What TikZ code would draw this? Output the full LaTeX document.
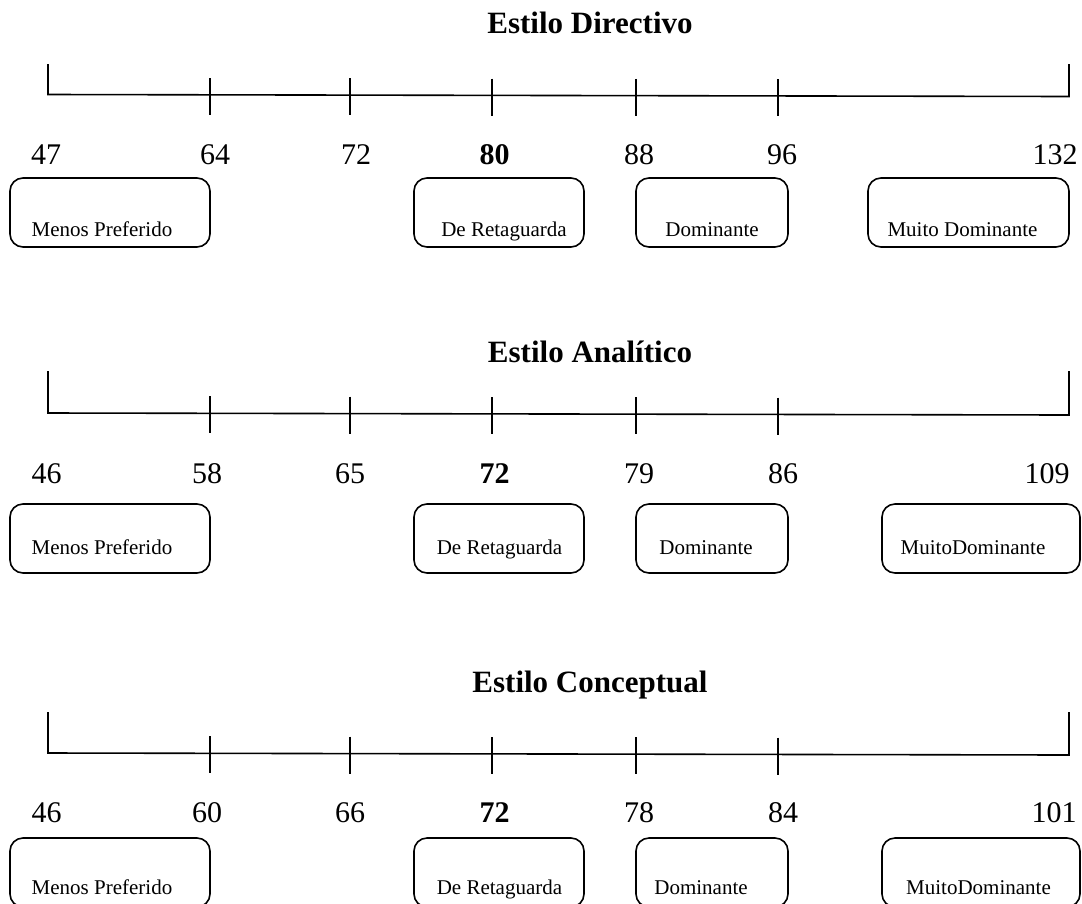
\documentclass[tikz,border=0pt]{standalone}
\usepackage{fontspec}
\setmainfont{Liberation Serif}
\begin{document}
\begin{tikzpicture}[x=1pt,y=-1pt,
  axisline/.style={line width=1.6pt, line cap=rect},
  tickline/.style={line width=1.6pt},
  title/.style={font=\fontsize{31}{36}\selectfont\bfseries, inner sep=0pt, anchor=base},
  score/.style={font=\fontsize{30}{34}\selectfont, inner sep=0pt, anchor=base},
  mid/.style={score, font=\fontsize{30}{34}\selectfont\bfseries},
  catbox/.style={draw, line width=1.6pt, rounded corners=13pt, inner sep=0pt},
  catlabel/.style={font=\fontsize{21}{24}\selectfont, inner sep=0pt, anchor=base}]
\useasboundingbox (0,0) rectangle (1082,903);
\clip (0,0) rectangle (1082,903);

% ---------- Estilo Directivo ----------
\node[title] (t1) at (590,33) {Estilo Directivo};
\draw[axisline] (48,65) -- (48,94.5) -- (1069,96.5) -- (1069,65);
\foreach \x/\y in {210/95, 350/95.2, 492/95.5, 636/95.8, 778/96}
  \draw[tickline] (\x,\y-17) -- (\x,\y+20);
\node[score] (d47)  at (46,164)    {47};
\node[score] (d64)  at (215,164)   {64};
\node[score] (d72)  at (356,164)   {72};
\node[mid]   (d80)  at (494.5,164) {80};
\node[score] (d88)  at (639,164)   {88};
\node[score] (d96)  at (782,164)   {96};
\node[score] (d132) at (1055,164)  {132};
\node[catbox, minimum width=200pt, minimum height=69pt] (d-b1) at (110,212.5) {};
\node[catbox, minimum width=170pt, minimum height=69pt] (d-b2) at (499,212.5) {};
\node[catbox, minimum width=152pt, minimum height=69pt] (d-b3) at (712,212.5) {};
\node[catbox, minimum width=201pt, minimum height=69pt] (d-b4) at (968.5,212.5) {};
\node[catlabel] (d-l1) at (102,236)   {Menos Preferido};
\node[catlabel] (d-l2) at (504,236)   {De Retaguarda};
\node[catlabel] (d-l3) at (712,236)   {Dominante};
\node[catlabel] (d-l4) at (962.5,236) {Muito Dominante};

% ---------- Estilo Analítico ----------
\node[title] (t2) at (590,362) {Estilo Analítico};
\draw[axisline] (48,372) -- (48,413) -- (1069,415) -- (1069,372);
\foreach \x/\y in {210/413.3, 350/413.6, 492/414, 636/414.2, 778/414.5}
  \draw[tickline] (\x,\y-17) -- (\x,\y+20);
\node[score] (a46)  at (46.5,483)  {46};
\node[score] (a58)  at (207,483)   {58};
\node[score] (a65)  at (350,483)   {65};
\node[mid]   (a72)  at (494.5,483) {72};
\node[score] (a79)  at (639,483)   {79};
\node[score] (a86)  at (783,483)   {86};
\node[score] (a109) at (1047,483)  {109};
\node[catbox, minimum width=200pt, minimum height=69pt] (a-b1) at (110,538.5) {};
\node[catbox, minimum width=170pt, minimum height=69pt] (a-b2) at (499,538.5) {};
\node[catbox, minimum width=152pt, minimum height=69pt] (a-b3) at (712,538.5) {};
\node[catbox, minimum width=198pt, minimum height=69pt] (a-b4) at (981,538.5) {};
\node[catlabel] (a-l1) at (102,554)   {Menos Preferido};
\node[catlabel] (a-l2) at (499.5,554) {De Retaguarda};
\node[catlabel] (a-l3) at (706,554)   {Dominante};
\node[catlabel] (a-l4) at (973,554)   {MuitoDominante};

% ---------- Estilo Conceptual ----------
\node[title] (t3) at (590,692) {Estilo Conceptual};
\draw[axisline] (48,713) -- (48,753) -- (1069,755) -- (1069,713);
\foreach \x/\y in {210/753.3, 350/753.6, 492/754, 636/754.2, 778/754.5}
  \draw[tickline] (\x,\y-17) -- (\x,\y+20);
\node[score] (c46)  at (46.5,822)  {46};
\node[score] (c60)  at (207,822)   {60};
\node[score] (c66)  at (350,822)   {66};
\node[mid]   (c72)  at (494.5,822) {72};
\node[score] (c78)  at (639,822)   {78};
\node[score] (c84)  at (783,822)   {84};
\node[score] (c101) at (1054,822)  {101};
\node[catbox, minimum width=200pt, minimum height=69pt] (c-b1) at (110,872.5) {};
\node[catbox, minimum width=170pt, minimum height=69pt] (c-b2) at (499,872.5) {};
\node[catbox, minimum width=152pt, minimum height=69pt] (c-b3) at (712,872.5) {};
\node[catbox, minimum width=198pt, minimum height=69pt] (c-b4) at (981,872.5) {};
\node[catlabel] (c-l1) at (102,894)   {Menos Preferido};
\node[catlabel] (c-l2) at (499.5,894) {De Retaguarda};
\node[catlabel] (c-l3) at (701,894)   {Dominante};
\node[catlabel] (c-l4) at (978.5,894) {MuitoDominante};
\end{tikzpicture}
\end{document}
